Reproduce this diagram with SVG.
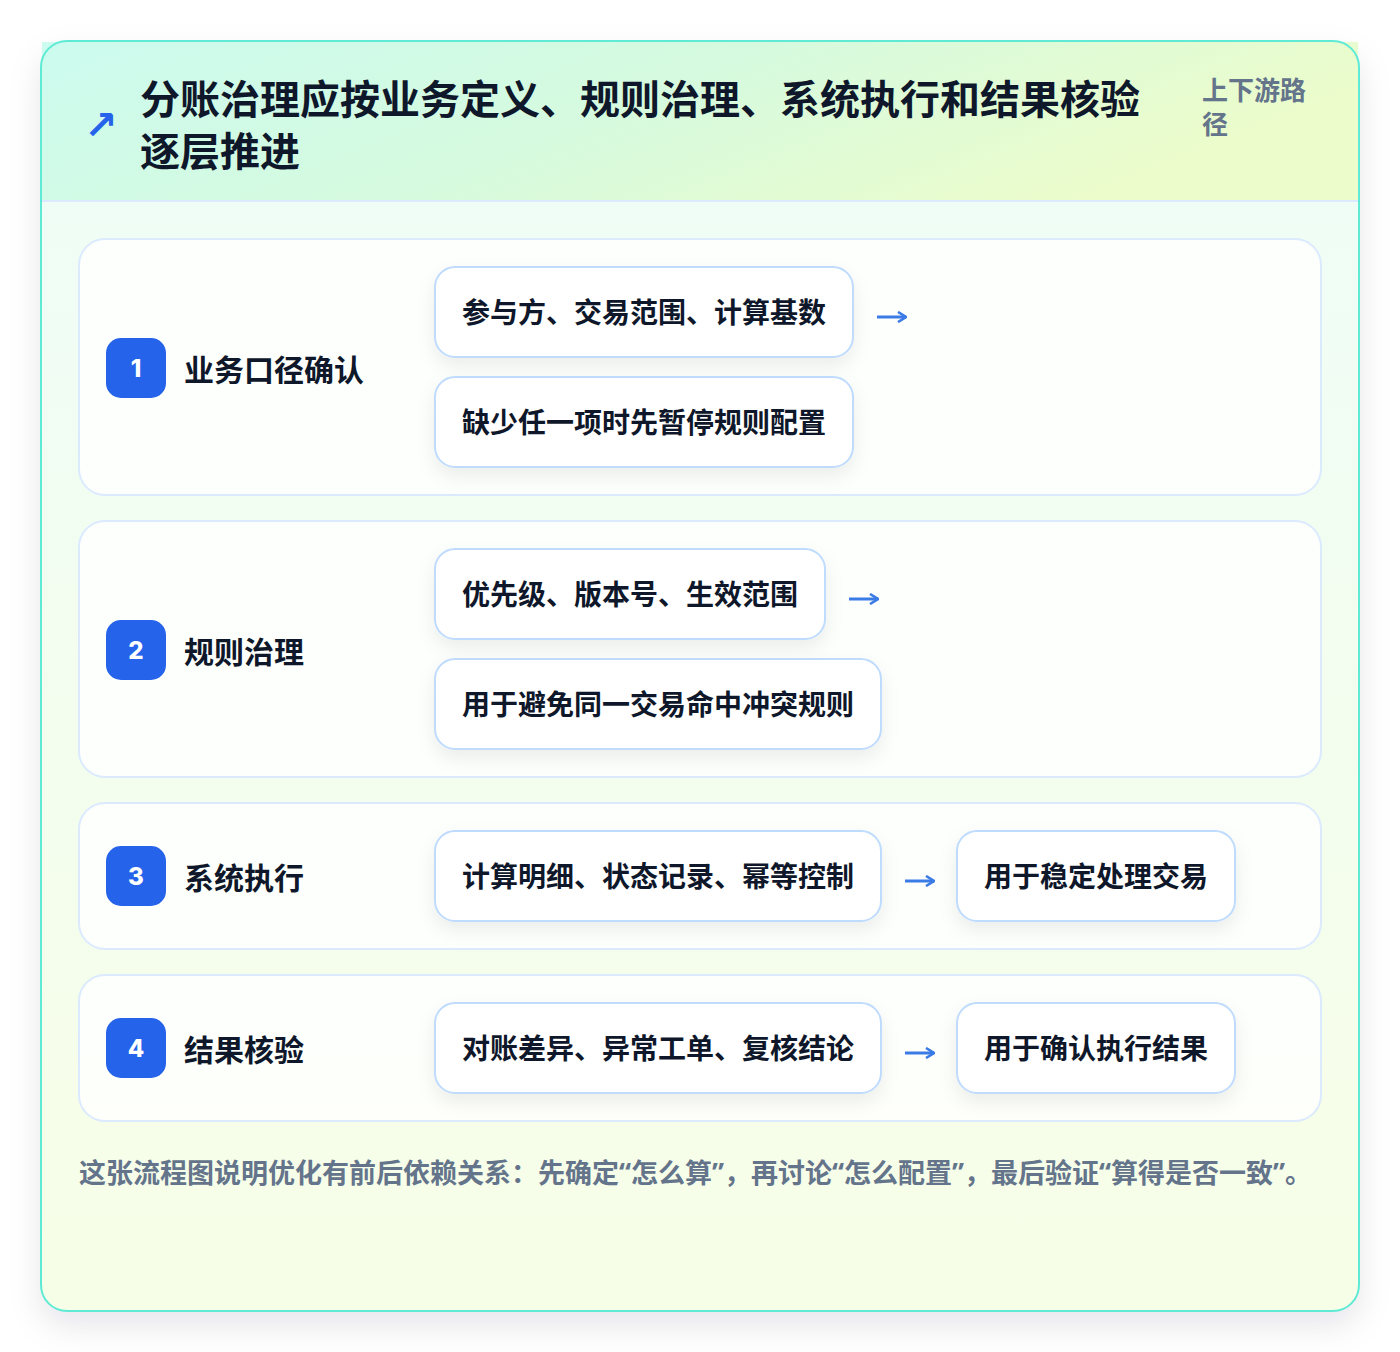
<svg xmlns="http://www.w3.org/2000/svg" width="1400" height="1352" viewBox="0 0 1400 1352">
<defs>
<linearGradient id="hdr" x1="0" y1="0" x2="1" y2="0.3">
<stop offset="0" stop-color="#ccfbef"/>
<stop offset="0.5" stop-color="#d5fadf"/>
<stop offset="1" stop-color="#ecfccb"/>
</linearGradient>
<linearGradient id="body" x1="0" y1="0" x2="0" y2="1">
<stop offset="0" stop-color="#effdf8"/>
<stop offset="1" stop-color="#f7fee7"/>
</linearGradient>
<filter id="outerShadow" x="-10%" y="-10%" width="120%" height="120%">
<feDropShadow dx="0" dy="14" stdDeviation="16" flood-color="#0f172a" flood-opacity="0.10"/>
</filter>
<filter id="pillShadow" x="-20%" y="-30%" width="140%" height="170%">
<feDropShadow dx="0" dy="8" stdDeviation="9" flood-color="#0f172a" flood-opacity="0.07"/>
</filter>
<marker id="ah" viewBox="0 0 10 12" refX="9" refY="6" markerWidth="10" markerHeight="12" markerUnits="userSpaceOnUse" orient="auto">
<path d="M1,1 L9,6 L1,11" fill="none" stroke="#3b7be6" stroke-width="2.6" stroke-linejoin="miter"/>
</marker>
<style>
.txt{font-family:"Noto Sans CJK SC","Noto Sans",sans-serif;font-weight:700}
.title{font-size:40px;fill:#0f172a}
.meta{font-size:26px;fill:#64748b}
.card{fill:#ffffff;fill-opacity:0.82;stroke:#dbeafe;stroke-width:2}
.badge{fill:#2563eb}
.num{font-family:"Inter","Noto Sans",sans-serif;font-weight:800;font-size:24px;fill:#ffffff}
.label{font-size:30px;fill:#0f172a}
.pill{fill:#ffffff;stroke:#bfdbfe;stroke-width:2}
.ptxt{font-size:28px;fill:#0f172a}
.conn{stroke:#3b7be6;stroke-width:3;fill:none}
.foot{font-size:27px;fill:#64748b}
.q{font-family:"Noto Sans",sans-serif}
</style>
</defs>
<rect x="0" y="0" width="1400" height="1352" fill="#ffffff"/>
<g id="frame">
<rect x="41" y="41" width="1318" height="1270" rx="26" fill="url(#body)" filter="url(#outerShadow)"/>
<rect x="42" y="42" width="1316" height="159" fill="url(#hdr)"/>
<line x1="42" y1="201" x2="1358" y2="201" stroke="#dbeafe" stroke-width="2"/>
<rect x="41" y="41" width="1318" height="1270" rx="26" fill="none" stroke="#5eead4" stroke-width="2"/>
</g>
<g id="header">
<text x="84" y="125" font-size="40" font-weight="700" fill="#2563eb" dominant-baseline="central" font-family="DejaVu Sans, sans-serif">↗</text>
<text class="txt title" x="140" y="97" dominant-baseline="central">分账治理应按业务定义、规则治理、系统执行和结果核验</text>
<text class="txt title" x="140" y="149" dominant-baseline="central">逐层推进</text>
<text class="txt meta" x="1202" y="88" dominant-baseline="central">上下游路</text>
<text class="txt meta" x="1202" y="122" dominant-baseline="central">径</text>
</g>
<g id="step1">
<rect class="card" x="79" y="239" width="1242" height="256" rx="26"/>
<rect class="badge" x="106" y="338" width="60" height="60" rx="15"/>
<text class="num" x="136" y="368" text-anchor="middle" dominant-baseline="central">1</text>
<text class="txt label" x="184" y="368" dominant-baseline="central">业务口径确认</text>
<g id="step1-a"><rect class="pill" x="435" y="267" width="418" height="90" rx="20" filter="url(#pillShadow)"/>
<text class="txt ptxt" x="462" y="311" dominant-baseline="central">参与方、交易范围、计算基数</text></g>
<g id="step1-b"><rect class="pill" x="435" y="377" width="418" height="90" rx="20" filter="url(#pillShadow)"/>
<text class="txt ptxt" x="462" y="421" dominant-baseline="central">缺少任一项时先暂停规则配置</text></g>
</g>
<g id="step2">
<rect class="card" x="79" y="521" width="1242" height="256" rx="26"/>
<rect class="badge" x="106" y="620" width="60" height="60" rx="15"/>
<text class="num" x="136" y="650" text-anchor="middle" dominant-baseline="central">2</text>
<text class="txt label" x="184" y="650" dominant-baseline="central">规则治理</text>
<g id="step2-a"><rect class="pill" x="435" y="549" width="390" height="90" rx="20" filter="url(#pillShadow)"/>
<text class="txt ptxt" x="462" y="593" dominant-baseline="central">优先级、版本号、生效范围</text></g>
<g id="step2-b"><rect class="pill" x="435" y="659" width="446" height="90" rx="20" filter="url(#pillShadow)"/>
<text class="txt ptxt" x="462" y="703" dominant-baseline="central">用于避免同一交易命中冲突规则</text></g>
</g>
<g id="step3">
<rect class="card" x="79" y="803" width="1242" height="146" rx="26"/>
<rect class="badge" x="106" y="846" width="60" height="60" rx="15"/>
<text class="num" x="136" y="876" text-anchor="middle" dominant-baseline="central">3</text>
<text class="txt label" x="184" y="876" dominant-baseline="central">系统执行</text>
<g id="step3-a"><rect class="pill" x="435" y="831" width="446" height="90" rx="20" filter="url(#pillShadow)"/>
<text class="txt ptxt" x="462" y="875" dominant-baseline="central">计算明细、状态记录、幂等控制</text></g>
<g id="step3-b"><rect class="pill" x="957" y="831" width="278" height="90" rx="20" filter="url(#pillShadow)"/>
<text class="txt ptxt" x="984" y="875" dominant-baseline="central">用于稳定处理交易</text></g>
</g>
<g id="step4">
<rect class="card" x="79" y="975" width="1242" height="146" rx="26"/>
<rect class="badge" x="106" y="1018" width="60" height="60" rx="15"/>
<text class="num" x="136" y="1048" text-anchor="middle" dominant-baseline="central">4</text>
<text class="txt label" x="184" y="1048" dominant-baseline="central">结果核验</text>
<g id="step4-a"><rect class="pill" x="435" y="1003" width="446" height="90" rx="20" filter="url(#pillShadow)"/>
<text class="txt ptxt" x="462" y="1047" dominant-baseline="central">对账差异、异常工单、复核结论</text></g>
<g id="step4-b"><rect class="pill" x="957" y="1003" width="278" height="90" rx="20" filter="url(#pillShadow)"/>
<text class="txt ptxt" x="984" y="1047" dominant-baseline="central">用于确认执行结果</text></g>
</g>
<g id="connectors">
<path class="conn" d="M877,317 H906" marker-end="url(#ah)"/>
<path class="conn" d="M849,599 H878" marker-end="url(#ah)"/>
<path class="conn" d="M905,881 H934" marker-end="url(#ah)"/>
<path class="conn" d="M905,1053 H934" marker-end="url(#ah)"/>
</g>
<g id="footer">
<text class="txt foot" x="79" y="1171" dominant-baseline="central">这张流程图说明优化有前后依赖关系：先确定<tspan class="q">“</tspan>怎么算<tspan class="q">”</tspan>，再讨论<tspan class="q">“</tspan>怎么配置<tspan class="q">”</tspan>，最后验证<tspan class="q">“</tspan>算得是否一致<tspan class="q">”</tspan>。</text>
</g>
</svg>
